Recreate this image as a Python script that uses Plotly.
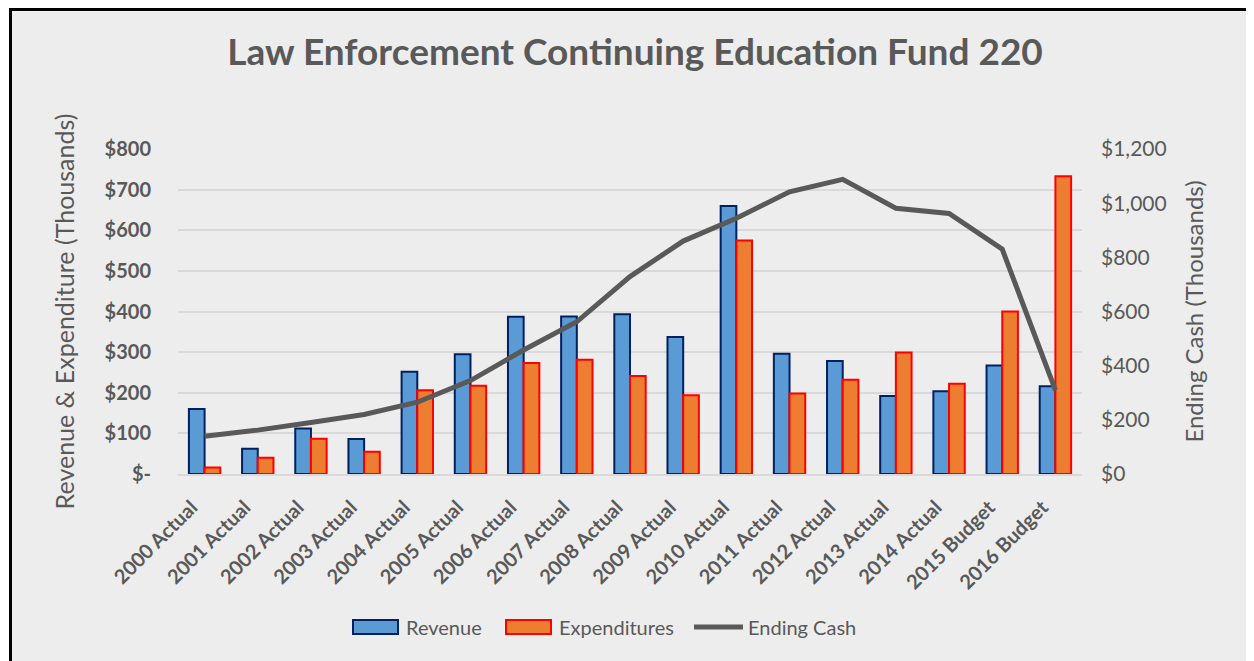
import plotly.graph_objects as go

years = ['2000 Actual', '2001 Actual', '2002 Actual', '2003 Actual', '2004 Actual',
         '2005 Actual', '2006 Actual', '2007 Actual', '2008 Actual', '2009 Actual',
         '2010 Actual', '2011 Actual', '2012 Actual', '2013 Actual', '2014 Actual',
         '2015 Budget', '2016 Budget']
revenue = [160, 62, 112, 86, 252, 295, 387, 388, 393, 337, 660, 296, 278, 192, 204, 267, 216]
expenditures = [16, 40, 87, 55, 206, 217, 273, 281, 241, 194, 575, 198, 232, 299, 222, 400, 733]
ending_cash = [139, 162, 190, 220, 265, 345, 458, 562, 729, 860, 944, 1042, 1088, 981, 962, 830, 310]

left_ticks = [0, 100, 200, 300, 400, 500, 600, 700, 800]
left_text = ['$-', '$100', '$200', '$300', '$400', '$500', '$600', '$700', '$800']
right_ticks = [0, 200, 400, 600, 800, 1000, 1200]

# the page body has an 8px margin, so the figure sits at (8, 8) on screen
OFF = 8
W, H = 1254 - OFF, 661 - OFF
x_left, x_right, y_top, y_bot = 178, 1082, 149, 474   # plot area, screen px
pw, ph = x_right - x_left, y_bot - y_top

def px(x):
    return (x - x_left) / pw

def py(y):
    return (y_bot - y) / ph

grey = '#595959'
font = 'Lato'
blue, navy = '#5B9BD5', '#002060'
orange, red = '#ED7D31', '#FF0000'

fig = go.Figure()
fig.add_trace(go.Bar(
    x=years, y=revenue, name='Revenue',
    marker=dict(color=blue, line=dict(color=navy, width=2))
))
fig.add_trace(go.Bar(
    x=years, y=expenditures, name='Expenditures',
    marker=dict(color=orange, line=dict(color=red, width=2))
))
fig.add_trace(go.Scatter(
    x=years, y=ending_cash, name='Ending Cash', yaxis='y2',
    mode='lines', line=dict(color=grey, width=5)
))

# legend drawn by hand so the swatches are wide like the original
legend_items = [
    ('rect', 353, 398, 404, 'Revenue', blue, navy),
    ('rect', 506, 551, 557, 'Expenditures', orange, red),
    ('line', 694, 743, 746, 'Ending Cash', grey, grey),
]
shapes = [dict(type='rect', xref='paper', yref='paper', layer='below',
               x0=px(10.5), x1=px(1262), y0=py(9.5), y1=py(672),
               fillcolor='#EDEDED', line=dict(color='black', width=3))]
annotations = []
for kind, a, b, tx, label, fill, edge in legend_items:
    if kind == 'rect':
        shapes.append(dict(type='rect', xref='paper', yref='paper',
                           x0=px(a), x1=px(b), y0=py(634), y1=py(620),
                           fillcolor=fill, line=dict(color=edge, width=2)))
    else:
        shapes.append(dict(type='line', xref='paper', yref='paper',
                           x0=px(a), x1=px(b), y0=py(627), y1=py(627),
                           line=dict(color=edge, width=5)))
    annotations.append(dict(text=label, xref='paper', yref='paper',
                            x=px(tx), y=py(627), xanchor='left', yanchor='middle',
                            showarrow=False, font=dict(family=font, size=20, color=grey)))

fig.update_layout(
    width=W, height=H,
    margin=dict(l=x_left - OFF, r=1254 - x_right, t=y_top - OFF, b=661 - y_bot),
    paper_bgcolor='white',
    plot_bgcolor='rgba(0,0,0,0)',
    font=dict(family=font, color=grey, size=20),
    barmode='group', bargap=0.41, bargroupgap=0,
    showlegend=False,
    title=dict(text='<b>Law Enforcement Continuing Education Fund 220</b>',
               x=(635 - OFF) / W, xref='container', xanchor='center',
               y=1 - (52 - OFF) / H, yref='container', yanchor='middle',
               font=dict(family=font, size=37, color=grey)),
    xaxis=dict(
        tickangle=-45, showgrid=False, linecolor='#D9D9D9', linewidth=2,
        tickfont=dict(family=font, size=20, color=grey, weight='bold'),
        ticks='', automargin=False, ticklabelstandoff=12, ticklabelshift=-13
    ),
    yaxis=dict(
        range=[0, 800], tickvals=left_ticks, ticktext=left_text,
        gridcolor='#D9D9D9', gridwidth=2, zeroline=False,
        tickfont=dict(family=font, size=20, color=grey, weight='bold'),
        ticklabelstandoff=26, automargin=False,
        title=dict(text='Revenue & Expenditure (Thousands)', standoff=22,
                   font=dict(family=font, size=25, color=grey))
    ),
    yaxis2=dict(
        range=[0, 1200], tickvals=right_ticks, tickformat='$,.0f',
        overlaying='y', side='right', showgrid=False, zeroline=False,
        tickfont=dict(family=font, size=21, color=grey),
        ticklabelstandoff=18, automargin=False,
        title=dict(text='Ending Cash (Thousands)', standoff=20,
                   font=dict(family=font, size=24, color=grey))
    ),
    shapes=shapes,
    annotations=annotations,
)

fig.write_html('out.html')
